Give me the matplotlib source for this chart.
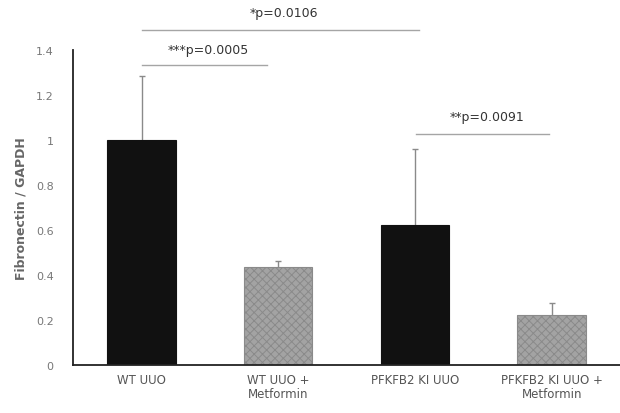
import matplotlib
matplotlib.use('Agg')
import matplotlib.pyplot as plt

groups = ['WT UUO', 'WT UUO +\nMetformin', 'PFKFB2 KI UUO', 'PFKFB2 KI UUO +\nMetformin']
means = [1.0, 0.434, 0.62, 0.22]
errs = [0.286, 0.03, 0.34, 0.057]
colors = ['#111111', '#a3a3a3', '#111111', '#a3a3a3']
hatches = ['', 'xxxx', '', 'xxxx']

# significance brackets: (start bar, end bar, height, label, label height)
brackets = [(0, 2.03, 1.487, '*p=0.0106', 1.565),
            (0, 0.92, 1.335, '***p=0.0005', 1.40),
            (2.01, 2.98, 1.027, '**p=0.0091', 1.105)]

plt.rcParams['hatch.linewidth'] = 0.7
plt.rcParams['hatch.color'] = '#666666'

fig = plt.figure(figsize=(6.2, 4.14), dpi=100)
ax = fig.add_axes([0.118, 0.116, 0.882, 0.761])

x = list(range(len(groups)))
bars = ax.bar(x, means, width=0.5, color=colors, edgecolor=['#111111', '#8a8a8a', '#111111', '#8a8a8a'],
              linewidth=0.8, zorder=2)
for b, h in zip(bars, hatches):
    b.set_hatch(h)
ax.errorbar(x, means, yerr=[[0] * len(errs), errs], fmt='none', ecolor='#8a8a8a',
            elinewidth=1.0, capsize=0, zorder=1)
tops = [m + e for m, e in zip(means, errs)]
ax.plot(x, tops, ls='none', marker='_', ms=5, mew=1.0, color='#8a8a8a', zorder=1)

for x0, x1, y, label, ty in brackets:
    ax.plot([x0, x1], [y, y], color='#a5a5a5', lw=1.0, clip_on=False)
    ax.text((x0 + x1) / 2 + 0.03, ty, label, ha='center', va='center', fontsize=9,
            color='#333333', clip_on=False)

ax.set_xlim(-0.5, 3.5)
ax.set_ylim(0, 1.4)
ax.set_yticks([0, 0.2, 0.4, 0.6, 0.8, 1, 1.2, 1.4])
ax.set_yticklabels(['0', '0.2', '0.4', '0.6', '0.8', '1', '1.2', '1.4'])
ax.set_xticks(x)
ax.set_xticklabels(groups, fontsize=8.5, color='#555555', linespacing=1.1)
ax.tick_params(axis='y', labelsize=8, labelcolor='#777777', length=0, pad=14)
ax.tick_params(axis='x', length=0, pad=6)
ax.set_ylabel('Fibronectin / GAPDH', fontsize=9, fontweight='bold', color='#666666', labelpad=6)

for s in ['top', 'right']:
    ax.spines[s].set_visible(False)
ax.spines['left'].set_color('#222222')
ax.spines['bottom'].set_color('#222222')
ax.spines['left'].set_linewidth(1.3)
ax.spines['bottom'].set_linewidth(1.3)

fig.savefig('out.png', dpi=100)
